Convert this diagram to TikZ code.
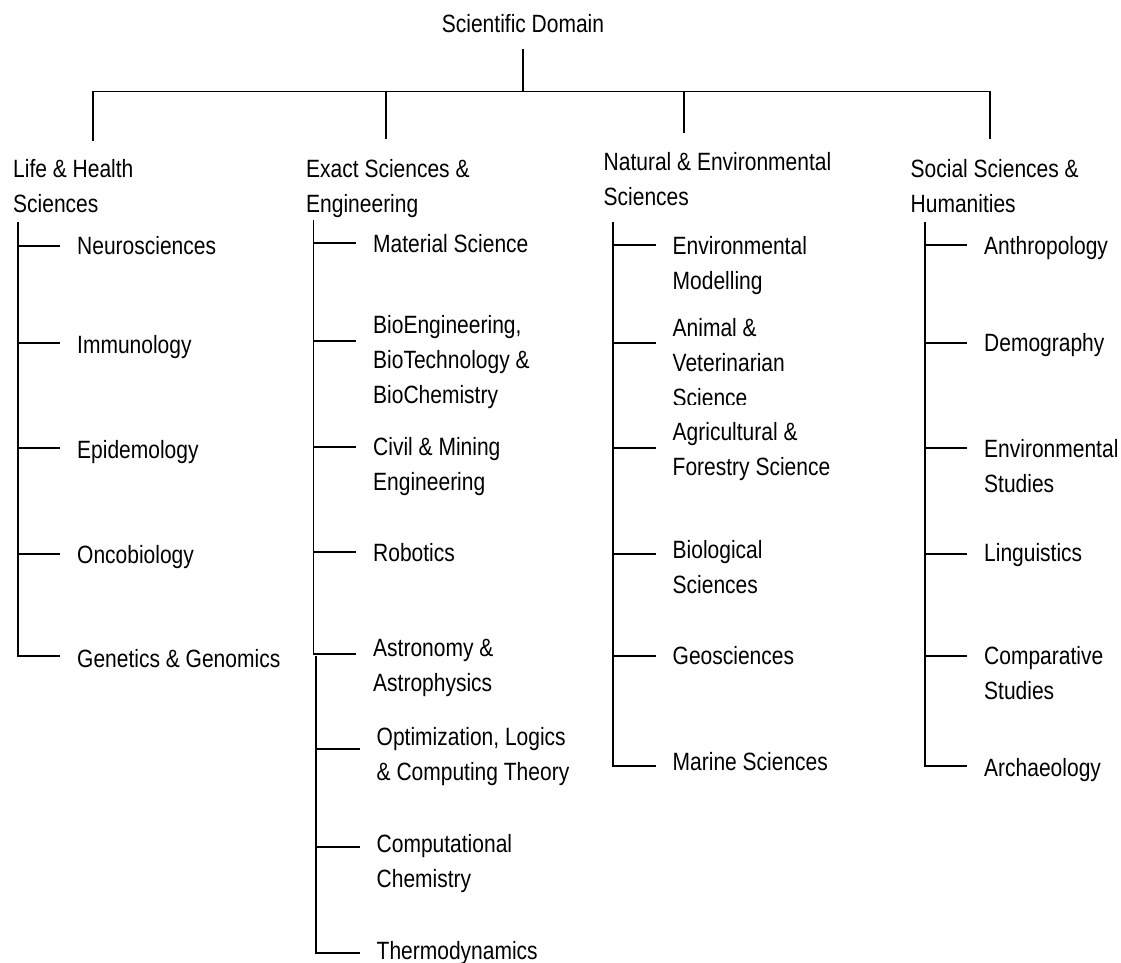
\documentclass[tikz,border=0pt]{standalone}
\usepackage{fontspec}
\setmainfont{Liberation Sans}[FakeStretch=0.84]
\begin{document}
\begin{tikzpicture}[x=1pt,y=-1pt,
  label/.style={anchor=base west,inner sep=0pt,align=left,
    font=\fontsize{25}{35}\selectfont},
  link/.style={line width=1.3pt,black}]
\useasboundingbox (0,0) rectangle (1121,963);
% multi-line labels sit on the baseline of their last line (35pt per line)

% root
\node[label,anchor=base] (root) at (523,33) {Scientific Domain};
\coordinate (rootFoot) at (523,49);
\coordinate (bar) at (523,91.5);

% category headings
\node[label] (life) at (13,212)  {Life \& Health\\Sciences};
\node[label] (exact) at (306,212) {Exact Sciences \&\\Engineering};
\node[label] (nat) at (603.5,205) {Natural \& Environmental\\Sciences};
\node[label] (soc) at (910.5,212) {Social Sciences \&\\Humanities};

\coordinate (lifeTop) at (93,141);
\coordinate (exactTop) at (386,139);
\coordinate (natTop) at (684,133);
\coordinate (socTop) at (990,139);

\draw[link] (rootFoot) -- (bar);
\draw[link] (bar) -| (lifeTop);
\draw[link] (bar) -| (socTop);
\draw[link] (exactTop |- bar) -- (exactTop);
\draw[link] (natTop |- bar) -- (natTop);

% spine tops
\coordinate (lifeSp) at (18,222);
\coordinate (exSp) at (313.5,220);
\coordinate (exSpLow) at (316,656);
\coordinate (natSp) at (613,222);
\coordinate (socSp) at (925,222);

% Life & Health Sciences
\node[label] (neuro) at (77,254) {Neurosciences};
\node[label] (immu) at (77,353) {Immunology};
\node[label] (epid) at (77,458) {Epidemology};
\node[label] (onco) at (77,563) {Oncobiology};
\node[label] (gene) at (77,667) {Genetics \& Genomics};
\coordinate (t-neuro) at (60,246);
\coordinate (t-immu) at (60,343);
\coordinate (t-epid) at (60,448);
\coordinate (t-onco) at (60,554);
\coordinate (t-gene) at (60,656);
\foreach \t in {neuro,immu,epid,onco,gene}
  \draw[link] (lifeSp) |- (t-\t);

% Exact Sciences & Engineering
\node[label] (mat) at (373,252) {Material Science};
\node[label] (bio) at (373,403) {BioEngineering,\\BioTechnology \&\\BioChemistry};
\node[label] (civil) at (373,490) {Civil \& Mining\\Engineering};
\node[label] (robo) at (373,561) {Robotics};
\node[label] (astro) at (373,691) {Astronomy \&\\Astrophysics};
\node[label] (opti) at (376.5,780) {Optimization, Logics\\\& Computing Theory};
\node[label] (comp) at (376.5,887) {Computational\\Chemistry};
\node[label] (thermo) at (376.5,959) {Thermodynamics};
\coordinate (t-mat) at (356,243);
\coordinate (t-bio) at (356,341);
\coordinate (t-civil) at (356,447);
\coordinate (t-robo) at (356,552);
\coordinate (t-astro) at (356,654);
\coordinate (t-opti) at (360,749);
\coordinate (t-comp) at (360,847);
\coordinate (t-thermo) at (360,953);
\foreach \t in {mat,bio,civil,robo,astro}
  \draw[link] (exSp) |- (t-\t);
\foreach \t in {opti,comp,thermo}
  \draw[link] (exSpLow) |- (t-\t);

% Natural & Environmental Sciences
\node[label] (envm) at (672.5,289) {Environmental\\Modelling};
\begin{scope}
  \clip (600,300) rectangle (900,404.5);
  \node[label] (anim) at (672.5,406) {Animal \&\\Veterinarian\\Science};
\end{scope}
\node[label] (agri) at (672.5,475) {Agricultural \&\\Forestry Science};
\node[label] (biol) at (672.5,593) {Biological\\Sciences};
\node[label] (geo) at (672.5,664) {Geosciences};
\node[label] (mar) at (672.5,770) {Marine Sciences};
\coordinate (t-envm) at (656,245);
\coordinate (t-anim) at (656,343);
\coordinate (t-agri) at (656,448);
\coordinate (t-biol) at (656,554);
\coordinate (t-geo) at (656,656);
\coordinate (t-mar) at (656,766);
\foreach \t in {envm,anim,agri,biol,geo,mar}
  \draw[link] (natSp) |- (t-\t);

% Social Sciences & Humanities
\node[label] (anth) at (984,254) {Anthropology};
\node[label] (demo) at (984,351) {Demography};
\node[label] (envs) at (984,492) {Environmental\\Studies};
\node[label] (ling) at (984,561) {Linguistics};
\node[label] (compst) at (984,699) {Comparative\\Studies};
\node[label] (arch) at (984,776) {Archaeology};
\coordinate (t-anth) at (967,245);
\coordinate (t-demo) at (967,343);
\coordinate (t-envs) at (967,448);
\coordinate (t-ling) at (967,554);
\coordinate (t-compst) at (967,656);
\coordinate (t-arch) at (967,766);
\foreach \t in {anth,demo,envs,ling,compst,arch}
  \draw[link] (socSp) |- (t-\t);
\end{tikzpicture}
\end{document}
